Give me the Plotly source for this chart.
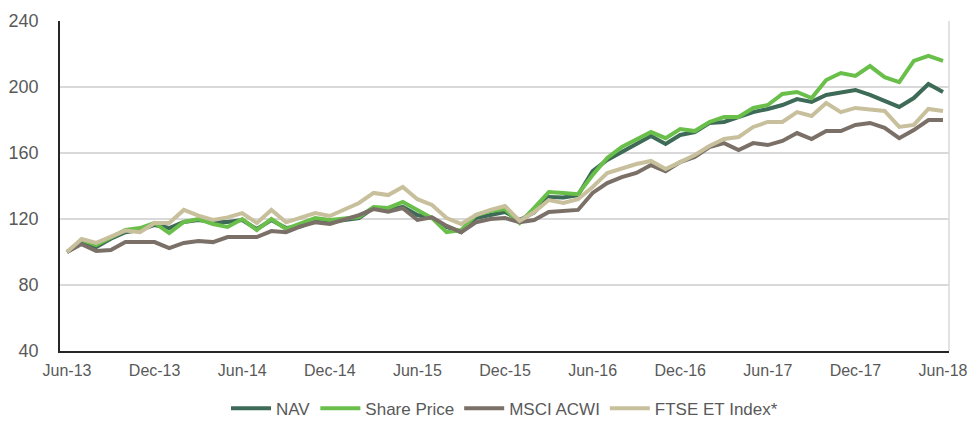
import plotly.graph_objects as go

months = ["Jun-13","Jul-13","Aug-13","Sep-13","Oct-13","Nov-13","Dec-13","Jan-14","Feb-14","Mar-14","Apr-14","May-14",
          "Jun-14","Jul-14","Aug-14","Sep-14","Oct-14","Nov-14","Dec-14","Jan-15","Feb-15","Mar-15","Apr-15","May-15",
          "Jun-15","Jul-15","Aug-15","Sep-15","Oct-15","Nov-15","Dec-15","Jan-16","Feb-16","Mar-16","Apr-16","May-16",
          "Jun-16","Jul-16","Aug-16","Sep-16","Oct-16","Nov-16","Dec-16","Jan-17","Feb-17","Mar-17","Apr-17","May-17",
          "Jun-17","Jul-17","Aug-17","Sep-17","Oct-17","Nov-17","Dec-17","Jan-18","Feb-18","Mar-18","Apr-18","May-18",
          "Jun-18"]

nav = [100, 105.5, 103, 108, 112, 113.3, 116.4, 114.5, 118.2, 119.4, 118.2, 118.2,
       119.4, 113.9, 119.4, 114.5, 115.5, 119, 118.2, 119.4, 120.6, 126.7, 125.5, 127.3,
       122.4, 120.6, 115.2, 112, 120.6, 122.4, 124.2, 119.4, 124, 133.3, 133, 134.5,
       149, 155.8, 160.6, 166, 170.3, 165.5, 170.9, 172.7, 178.2, 178.8, 181.5, 184.8,
       186.7, 189.1, 192.7, 191, 195.2, 196.4, 198.2, 195.2, 191.5, 187.9, 193.3, 201.8,
       197]

share_price = [100, 107.3, 104.2, 109, 113.3, 114.5, 117.6, 111.5, 118.2, 120, 117, 115.2,
               120, 113.3, 120, 114, 117, 120.6, 119.4, 120.6, 121.2, 127.3, 126.7, 130.3,
               125.5, 120.6, 112, 113.3, 122.4, 124.8, 126, 117.6, 126.7, 136.4, 135.8, 135,
               146.7, 157, 163.6, 167.9, 172.7, 169, 174.5, 173.3, 178.8, 181.8, 181.8, 187.3,
               189.1, 195.8, 197, 193.3, 204.2, 208.5, 206.7, 212.7, 206, 203, 215.8, 218.8,
               215.8]

msci_acwi = [100, 104.8, 100.6, 101.2, 106, 106, 106, 102.4, 105.5, 106.7, 106, 109.1,
             109.1, 109.1, 112.7, 112, 115.5, 118, 117, 119.4, 122.4, 126, 124.4, 126.6,
             119.4, 121, 115.8, 112, 118, 120, 120.6, 118, 119.4, 124.2, 124.8, 125.5,
             135.8, 141.8, 145.4, 147.9, 152.7, 149, 154.5, 157.6, 163.6, 166, 161.8, 166,
             164.8, 167.3, 172.1, 168.5, 173.3, 173.3, 177, 178.2, 175.2, 169, 173.9, 180,
             180]

ftse_et = [100, 107.9, 105.5, 109.5, 113, 112, 117.6, 117.6, 125.5, 122, 119.4, 121,
           123.6, 117.6, 125.5, 118, 120.6, 123.6, 121.8, 125.5, 129.7, 135.8, 134.5, 139.4,
           132, 128.5, 120.6, 117, 122.4, 125.5, 127.9, 118.8, 124.2, 131.5, 129.7, 132,
           139.4, 147.9, 150.9, 153.3, 155.2, 150.3, 154.5, 158.8, 164.2, 168.5, 169.7, 175.8,
           178.8, 178.8, 184.8, 182.4, 190.3, 184.8, 187.3, 186.7, 185.5, 175.8, 177, 186.7,
           185.5]

series_names = ["NAV", "Share Price", "MSCI ACWI", "FTSE ET Index*"]
series_colors = ["#3E6B58", "#6ABF4B", "#7A7068", "#C8C09C"]
y_ticks = [40, 80, 120, 160, 200, 240]
x_tick_labels = months[::6]

x = list(range(len(months)))
fig = go.Figure()
for name, vals, col in zip(series_names, [nav, share_price, msci_acwi, ftse_et], series_colors):
    fig.add_trace(go.Scatter(x=x, y=vals, mode="lines", name=name,
                             line=dict(color=col, width=4), hovertemplate="%{y}<extra>" + name + "</extra>"))

fig.update_layout(
    width=978, height=421,
    margin=dict(l=60, r=29, t=21, b=70, autoexpand=False),
    paper_bgcolor="white", plot_bgcolor="white",
    font=dict(family="Liberation Sans, Arial, sans-serif", size=16, color="#595959"),
    showlegend=True,
    legend=dict(orientation="h", x=0.5, xanchor="center", y=-0.175, yanchor="middle",
                font=dict(size=17, color="#595959"), itemwidth=40, tracegroupgap=0),
    xaxis=dict(range=[-0.48, 60.41], tickmode="array", tickvals=x[::6], ticktext=x_tick_labels,
               showgrid=False, showline=True, linecolor="#262626", linewidth=1.5,
               ticks="", ticklabelstandoff=4, zeroline=False, automargin=False,
               tickfont=dict(size=16, color="#595959")),
    yaxis=dict(range=[40, 240], tickmode="array", tickvals=y_ticks, ticktext=[str(v) for v in y_ticks],
               showgrid=True, gridcolor="#D9D9D9", gridwidth=1.5,
               showline=True, linecolor="#262626", linewidth=1.5,
               ticks="", ticklabelstandoff=16, zeroline=False, automargin=False,
               tickfont=dict(size=18, color="#595959")),
    shapes=[dict(type="line", xref="paper", yref="paper", x0=1, x1=1, y0=0, y1=1,
                 line=dict(color="#D9D9D9", width=1.5))],
)

fig.write_html("out.html", config={"displayModeBar": False},
               post_script="document.body.style.margin='0';document.body.style.overflow='hidden';")
